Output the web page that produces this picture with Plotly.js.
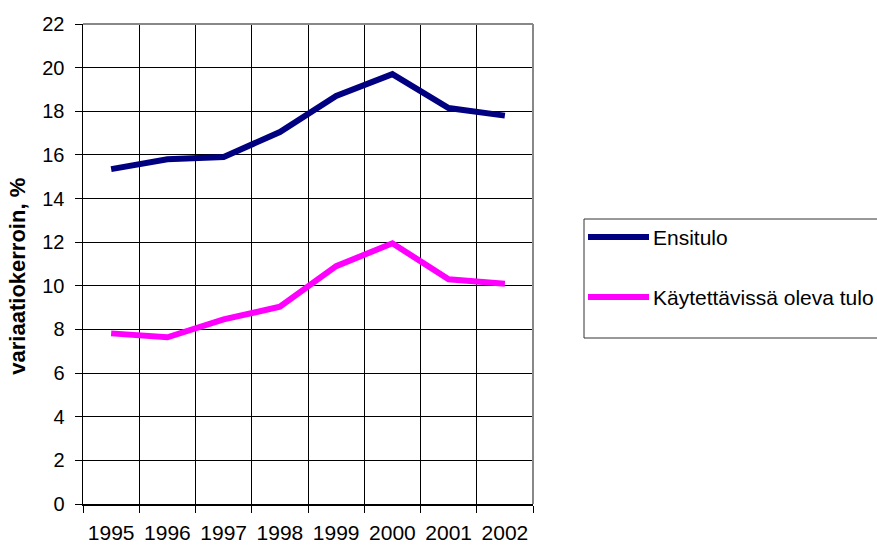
<!DOCTYPE html>
<html>
<head>
<meta charset="utf-8">
<script src="https://cdn.plot.ly/plotly-3.0.1.min.js"></script>
<style>html,body{margin:0;padding:0;background:#fff;}#chart{width:877px;height:545px;}</style>
</head>
<body>
<div id="chart"></div>
<script>
const years = ["1995","1996","1997","1998","1999","2000","2001","2002"];
const ensitulo = [15.35, 15.8, 15.9, 17.05, 18.7, 19.7, 18.15, 17.8];
const kaytettavissa = [7.82, 7.64, 8.46, 9.04, 10.9, 11.95, 10.3, 10.1];
const seriesNames = ["Ensitulo", "Käytettävissä oleva tulo"];
const seriesColors = ["#000080", "#FF00FF"];
const yTicks = [0,2,4,6,8,10,12,14,16,18,20,22];

const font = "Liberation Sans, Arial, sans-serif";
const traces = [
  {x: years, y: ensitulo, name: seriesNames[0], type: "scatter", mode: "lines",
   line: {color: seriesColors[0], width: 6}},
  {x: years, y: kaytettavissa, name: seriesNames[1], type: "scatter", mode: "lines",
   line: {color: seriesColors[1], width: 6}}
];

// plot area in px: x 83..533, y 24..504
const L = 83, R = 533, T = 24, B = 504;
const px = v => (v - L) / (R - L);
const py = v => (B - v) / (B - T);

const legendRows = [237, 297];
const shapes = [
  {type: "line", xref: "paper", yref: "paper", x0: 0, x1: 1, y0: 1, y1: 1, line: {color: "#888", width: 2}},
  {type: "line", xref: "paper", yref: "paper", x0: 1, x1: 1, y0: 0, y1: 1, line: {color: "#888", width: 2}},
  {type: "rect", xref: "paper", yref: "paper", x0: px(584), x1: px(900), y0: py(338), y1: py(219),
   line: {color: "#333", width: 1}, fillcolor: "rgba(0,0,0,0)"}
];
const annotations = [];
seriesNames.forEach((n, i) => {
  shapes.push({type: "line", xref: "paper", yref: "paper", x0: px(588), x1: px(649),
    y0: py(legendRows[i]), y1: py(legendRows[i]), line: {color: seriesColors[i], width: 6}});
  annotations.push({xref: "paper", yref: "paper", x: px(651), y: py(legendRows[i]),
    xanchor: "left", yanchor: "middle", text: n, showarrow: false,
    font: {size: 21, family: font, color: "#000"}});
});

const layout = {
  width: 877, height: 545,
  margin: {l: L, r: 877 - R, t: T, b: 545 - B},
  paper_bgcolor: "#fff", plot_bgcolor: "#fff",
  font: {family: font, color: "#000", size: 20},
  showlegend: false,
  xaxis: {type: "category", tickson: "boundaries", showgrid: true, gridcolor: "#000", gridwidth: 1,
    ticks: "outside", ticklen: 7, tickcolor: "#000", showline: true, linecolor: "#000", linewidth: 1.5,
    tickfont: {size: 21}, ticklabelstandoff: 9, range: [-0.5, 7.5], fixedrange: true, automargin: false},
  yaxis: {range: [0, 22], tickvals: yTicks, showgrid: true, gridcolor: "#000", gridwidth: 1,
    ticks: "outside", ticklen: 7, tickcolor: "#000", showline: true, linecolor: "#000", linewidth: 1.5,
    zeroline: false, tickfont: {size: 20}, ticklabelstandoff: 6, automargin: false,
    title: {text: "<b>variaatiokerroin, %</b>&nbsp;&nbsp;&nbsp;&nbsp;", font: {size: 22}, standoff: 10}},
  shapes: shapes,
  annotations: annotations
};
Plotly.newPlot("chart", traces, layout, {staticPlot: true, displayModeBar: false});
</script>
</body>
</html>
